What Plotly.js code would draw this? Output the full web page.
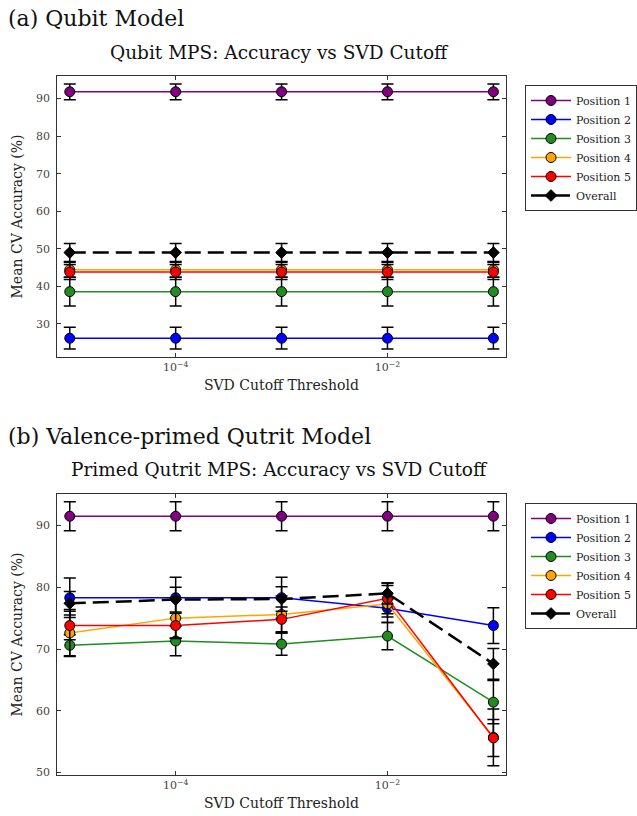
<!DOCTYPE html>
<html><head><meta charset="utf-8">
<script src="https://cdn.plot.ly/plotly-3.0.1.min.js"></script>
<style>body{margin:0;background:#fff}#chart{width:637px;height:816px}</style>
</head><body><div id="chart"></div>
<script>
// ---- data ----
const cutoffs = [1e-5, 1e-4, 1e-3, 1e-2, 1e-1];
const seriesNames = ["Position 1", "Position 2", "Position 3", "Position 4", "Position 5", "Overall"];
const seriesColors = ["#800080", "#0000ff", "#228b22", "#ffa500", "#ff0000", "#000000"];

// (a) Qubit model: mean accuracy and error
const qubitP1 = [91.8, 91.8, 91.8, 91.8, 91.8];
const qubitP2 = [26.2, 26.2, 26.2, 26.2, 26.2];
const qubitP3 = [38.6, 38.6, 38.6, 38.6, 38.6];
const qubitP4 = [44.4, 44.4, 44.4, 44.4, 44.4];
const qubitP5 = [43.8, 43.8, 43.8, 43.8, 43.8];
const qubitAll = [49.0, 49.0, 49.0, 49.0, 49.0];
const qubitErrP1 = [2.1, 2.1, 2.1, 2.1, 2.1];
const qubitErrP2 = [2.9, 2.9, 2.9, 2.9, 2.9];
const qubitErrP3 = [3.8, 3.8, 3.8, 3.8, 3.8];
const qubitErrP4 = [2.0, 2.0, 2.0, 2.0, 2.0];
const qubitErrP5 = [2.0, 2.0, 2.0, 2.0, 2.0];
const qubitErrAll = [2.4, 2.4, 2.4, 2.4, 2.4];

// (b) Valence-primed qutrit model
const qutritP1 = [91.5, 91.5, 91.5, 91.5, 91.5];
const qutritP2 = [78.3, 78.3, 78.3, 76.6, 73.8];
const qutritP3 = [70.6, 71.3, 70.8, 72.1, 61.4];
const qutritP4 = [72.6, 75.0, 75.6, 77.3, 55.7];
const qutritP5 = [73.8, 73.8, 74.8, 78.2, 55.6];
const qutritAll = [77.4, 78.0, 78.1, 79.0, 67.6];
const qutritErrP1 = [2.35, 2.35, 2.35, 2.35, 2.35];
const qutritErrP2 = [3.2, 3.3, 3.3, 1.4, 2.9];
const qutritErrP3 = [1.7, 2.4, 1.8, 2.2, 3.5];
const qutritErrP4 = [3.8, 3.3, 3.0, 3.0, 4.6];
const qutritErrP5 = [2.3, 2.0, 2.0, 2.5, 3.0];
const qutritErrAll = [1.9, 2.0, 2.0, 1.7, 2.5];

const xTickVals = [1e-4, 1e-2];
const xTickText = ["10<sup>\u22124</sup>", "10<sup>\u22122</sup>"];
const qubitYTicks = [30, 40, 50, 60, 70, 80, 90];
const qutritYTicks = [50, 60, 70, 80, 90];

// ---- build traces ----
const FONT = "DejaVu Serif";
function makeTraces(vals, errs, xa, ya, legendId) {
  return vals.map((v, i) => {
    const overall = i === 5;
    return {
      type: "scatter", mode: "lines+markers",
      x: cutoffs, y: v, name: seriesNames[i],
      xaxis: xa, yaxis: ya, legend: legendId,
      line: {color: seriesColors[i], width: overall ? 2.5 : 1.5, dash: overall ? "16px,7px" : "solid"},
      marker: overall
        ? {symbol: "diamond", size: 9, color: "#000", line: {color: "#000", width: 1}}
        : {symbol: "circle", size: 10, color: seriesColors[i], line: {color: "#000", width: 1}},
      error_y: {type: "data", array: errs[i], visible: true, color: "#000", thickness: 1.5, width: 6}
    };
  });
}
const traces = [
  ...makeTraces([qubitP1, qubitP2, qubitP3, qubitP4, qubitP5, qubitAll],
                [qubitErrP1, qubitErrP2, qubitErrP3, qubitErrP4, qubitErrP5, qubitErrAll], "x", "y", "legend"),
  ...makeTraces([qutritP1, qutritP2, qutritP3, qutritP4, qutritP5, qutritAll],
                [qutritErrP1, qutritErrP2, qutritErrP3, qutritErrP4, qutritErrP5, qutritErrAll], "x2", "y2", "legend2")
];

const W = 637, H = 816;
const px = v => v / W, py = v => 1 - v / H;
const xDomain = [px(58), px(512)];

function xAxis(anchor) {
  return {
    type: "log", range: [-5.118, -0.885], domain: xDomain, anchor: anchor,
    tickvals: xTickVals, ticktext: xTickText,
    ticks: "inside", ticklen: 4, tickcolor: "#333", mirror: "ticks",
    showline: true, linecolor: "#333", linewidth: 1, showgrid: false, zeroline: false,
    tickfont: {family: FONT, size: 11, color: "#444"},
    title: {text: "SVD Cutoff Threshold", font: {family: FONT, size: 14, color: "#222"}, standoff: 6}
  };
}
function yAxis(anchor, range, domain, ticks) {
  return {
    range: range, domain: domain, anchor: anchor,
    tickvals: ticks, ticks: "inside", ticklen: 4, tickcolor: "#333", mirror: "ticks",
    showline: true, linecolor: "#333", linewidth: 1, showgrid: false, zeroline: false,
    tickfont: {family: FONT, size: 11, color: "#444"}, ticklabelstandoff: 4,
    title: {text: "Mean CV Accuracy (%)", font: {family: FONT, size: 14, color: "#222"}, standoff: 10}
  };
}
function legendBox(y) {
  return {
    x: px(532), y: py(y), xanchor: "left", yanchor: "top",
    bgcolor: "#fff", bordercolor: "#333", borderwidth: 1,
    font: {family: FONT, size: 11, color: "#222"}, itemwidth: 40, tracegroupgap: 0
  };
}

const layout = {
  width: W, height: H, margin: {l: 0, r: 0, t: 0, b: 0},
  paper_bgcolor: "#fff", plot_bgcolor: "#fff",
  font: {family: FONT},
  showlegend: true,
  xaxis: xAxis("y"),
  yaxis: yAxis("x", [21.2, 96.0], [py(357), py(76)], qubitYTicks),
  xaxis2: xAxis("y2"),
  yaxis2: yAxis("x2", [49.6, 95.1], [py(775), py(494)], qutritYTicks),
  legend: legendBox(85),
  legend2: legendBox(503),
  annotations: [
    {text: "(a) Qubit Model", xref: "paper", yref: "paper", x: px(6), y: py(18), xanchor: "left", yanchor: "middle",
     showarrow: false, font: {family: FONT, size: 22, color: "#111"}},
    {text: "Qubit MPS: Accuracy vs SVD Cutoff", xref: "paper", yref: "paper", x: px(283), y: py(52), xanchor: "center", yanchor: "middle",
     showarrow: false, font: {family: FONT, size: 18.5, color: "#111"}},
    {text: "(b) Valence-primed Qutrit Model", xref: "paper", yref: "paper", x: px(6), y: py(436), xanchor: "left", yanchor: "middle",
     showarrow: false, font: {family: FONT, size: 22, color: "#111"}},
    {text: "Primed Qutrit MPS: Accuracy vs SVD Cutoff", xref: "paper", yref: "paper", x: px(283), y: py(470), xanchor: "center", yanchor: "middle",
     showarrow: false, font: {family: FONT, size: 18.5, color: "#111"}}
  ]
};

Plotly.newPlot("chart", traces, layout, {displayModeBar: false, responsive: false});
</script>
</body></html>
